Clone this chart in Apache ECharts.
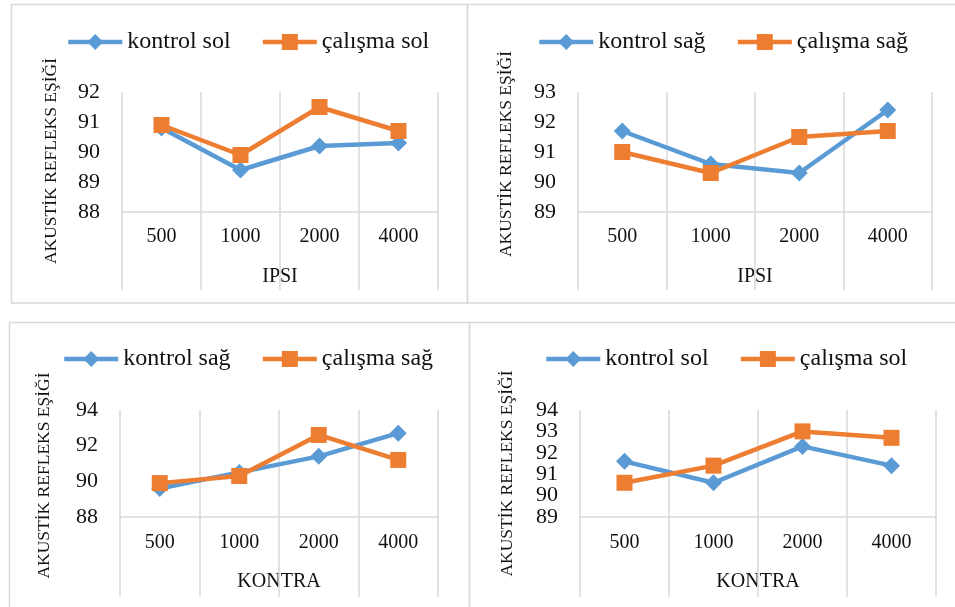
<!DOCTYPE html>
<html>
<head>
<meta charset="utf-8">
<script src="https://cdn.jsdelivr.net/npm/echarts@6/dist/echarts.min.js"></script>
<style>
html,body{margin:0;padding:0;background:#fff;}
#c{width:955px;height:607px;}
</style>
</head>
<body>
<div id="c"></div>
<script>
// Data
const freqs = ['500', '1000', '2000', '4000'];
const ipsiKontrolSol = [90.8, 89.4, 90.2, 90.3];
const ipsiCalismaSol = [90.9, 89.9, 91.5, 90.7];
const ipsiKontrolSag = [91.7, 90.6, 90.3, 92.4];
const ipsiCalismaSag = [91.0, 90.3, 91.5, 91.7];
const kontraKontrolSag = [89.6, 90.5, 91.4, 92.7];
const kontraCalismaSag = [89.9, 90.3, 92.6, 91.2];
const kontraKontrolSol = [91.6, 90.6, 92.3, 91.4];
const kontraCalismaSol = [90.6, 91.4, 93.0, 92.7];
const yTicks1 = [88, 89, 90, 91, 92];
const yTicks2 = [89, 90, 91, 92, 93];
const yTicks3 = [88, 90, 92, 94];
const yTicks4 = [89, 90, 91, 92, 93, 94];
const yTitle = 'AKUSTİK REFLEKS EŞİĞİ';
const xTitleTop = 'IPSI';
const xTitleBottom = 'KONTRA';

const BLUE = '#5B9BD5', ORANGE = '#ED7D31', GRID = '#d9d9d9', FONT = 'Liberation Serif', TXT = '#111';

const grids = [
  {left: 122, right: 517, top: 92, bottom: 395},
  {left: 578, right: 23, top: 92, bottom: 395},
  {left: 120, right: 517, top: 410, bottom: 90},
  {left: 580, right: 19, top: 410, bottom: 90}
];

const yLabelStyle = {fontFamily: FONT, fontSize: 22, color: TXT, margin: 22};

function xAxis(i, name, tickLen, margin) {
  return {
    type: 'category', gridIndex: i, data: freqs, boundaryGap: true,
    axisLine: {show: true, lineStyle: {color: GRID, width: 1.5}},
    axisTick: {show: true, length: tickLen, lineStyle: {color: GRID, width: 1.5}},
    splitLine: {show: true, lineStyle: {color: GRID, width: 1.5}},
    axisLabel: {fontFamily: FONT, fontSize: 20, color: TXT, margin: margin},
    name: name, nameLocation: 'middle', nameGap: 55,
    nameTextStyle: {fontFamily: FONT, fontSize: 20, color: TXT}
  };
}
function yAxis(i, ticks, gap, shift, showLabels) {
  return {
    type: 'value', gridIndex: i, position: 'left',
    min: ticks[0], max: ticks[ticks.length - 1], interval: ticks[1] - ticks[0],
    axisLine: {show: false}, axisTick: {show: false}, splitLine: {show: false},
    axisLabel: Object.assign({show: showLabels, showMinLabel: true, showMaxLabel: true}, yLabelStyle),
    name: yTitle, nameLocation: 'middle', nameGap: gap,
    nameTextStyle: {fontFamily: FONT, fontSize: 17.5, color: TXT, padding: [0, shift * 2, 0, 0]}
  };
}
// tick-label axis for the densely labelled panel (all labels kept)
function yLabelAxis(i, ticks) {
  return {
    type: 'category', gridIndex: i, position: 'left', boundaryGap: false,
    data: ticks.map(String),
    axisLine: {show: false}, axisTick: {show: false}, splitLine: {show: false},
    axisLabel: Object.assign({interval: 0}, yLabelStyle)
  };
}
function legend(left, top, names) {
  return {
    data: names, left: left, top: top, padding: 0, itemGap: 30,
    itemWidth: 54, itemHeight: 20,
    lineStyle: {width: 4.5},
    textStyle: {fontFamily: FONT, fontSize: 24, color: TXT}
  };
}
function series(name, data, i, kind) {
  const isBlue = kind === 'k';
  return {
    type: 'line', name: name, data: data, xAxisIndex: i, yAxisIndex: i,
    symbol: isBlue ? 'diamond' : 'rect', symbolSize: isBlue ? 17 : 16,
    color: isBlue ? BLUE : ORANGE,
    lineStyle: {width: 4.5, color: isBlue ? BLUE : ORANGE},
    itemStyle: {color: isBlue ? BLUE : ORANGE},
    animation: false
  };
}

const chart = echarts.init(document.getElementById('c'), null, {renderer: 'canvas'});
chart.setOption({
  animation: false,
  backgroundColor: '#fff',
  textStyle: {fontFamily: FONT},
  graphic: [
    {type: 'rect', shape: {x: 11.5, y: 4.5, width: 456, height: 298.5}, style: {fill: 'none', stroke: GRID, lineWidth: 1.5}, silent: true},
    {type: 'rect', shape: {x: 467.5, y: 4.5, width: 500, height: 298.5}, style: {fill: 'none', stroke: GRID, lineWidth: 1.5}, silent: true},
    {type: 'rect', shape: {x: 9.5, y: 322.5, width: 460, height: 300}, style: {fill: 'none', stroke: GRID, lineWidth: 1.5}, silent: true},
    {type: 'rect', shape: {x: 469.5, y: 322.5, width: 500, height: 300}, style: {fill: 'none', stroke: GRID, lineWidth: 1.5}, silent: true}
  ],
  grid: grids,
  legend: [
    legend(66, 30, ['kontrol sol', 'çalışma sol']),
    legend(537, 30, ['kontrol sağ', 'çalışma sağ']),
    legend(62, 347, ['kontrol sağ', 'çalışma sağ']),
    legend(544, 347, ['kontrol sol', 'çalışma sol'])
  ],
  xAxis: [
    xAxis(0, xTitleTop, 78, 15),
    xAxis(1, xTitleTop, 78, 15),
    xAxis(2, xTitleBottom, 80, 16),
    xAxis(3, xTitleBottom, 80, 16)
  ],
  yAxis: [
    yAxis(0, yTicks1, 62, 9, true),
    yAxis(1, yTicks2, 63, 2, true),
    yAxis(2, yTicks3, 67, 12, true),
    yAxis(3, yTicks4, 64, 10, false),
    yLabelAxis(3, yTicks4)
  ],
  series: [
    series('kontrol sol', ipsiKontrolSol, 0, 'k'),
    series('çalışma sol', ipsiCalismaSol, 0, 'c'),
    series('kontrol sağ', ipsiKontrolSag, 1, 'k'),
    series('çalışma sağ', ipsiCalismaSag, 1, 'c'),
    series('kontrol sağ', kontraKontrolSag, 2, 'k'),
    series('çalışma sağ', kontraCalismaSag, 2, 'c'),
    series('kontrol sol', kontraKontrolSol, 3, 'k'),
    series('çalışma sol', kontraCalismaSol, 3, 'c')
  ]
});
</script>
</body>
</html>
